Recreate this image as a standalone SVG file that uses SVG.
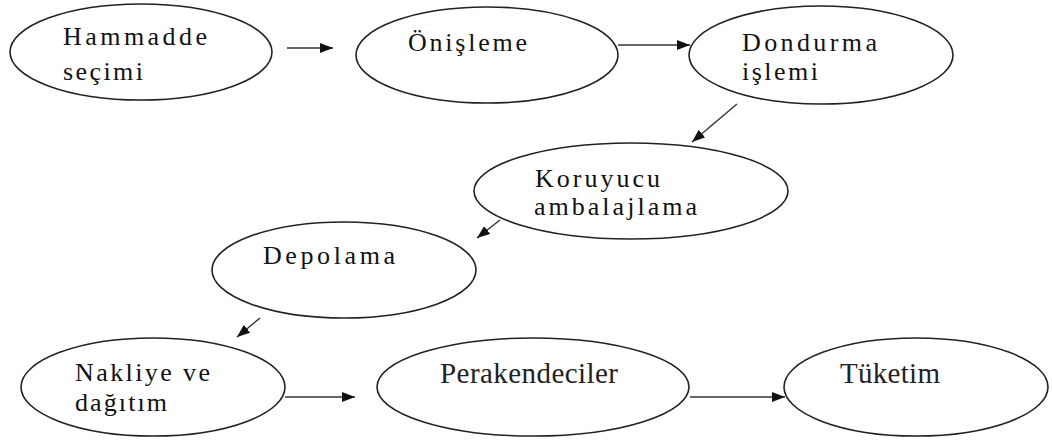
<svg xmlns="http://www.w3.org/2000/svg" width="1052" height="441" viewBox="0 0 1052 441">
<style>
.node ellipse{fill:#fff;stroke:#222;stroke-width:1.6}
.t{font-family:"Liberation Serif","Times New Roman",serif;font-size:26px;fill:#111}
.t2{font-family:"Liberation Serif","Times New Roman",serif;font-size:29px;fill:#222}
.conn line{stroke:#333;stroke-width:1.4;fill:none}
</style>
<defs>
<marker id="ah" markerUnits="userSpaceOnUse" markerWidth="14" markerHeight="10" refX="13" refY="5" orient="auto">
<path d="M0,0 L13,5 L0,10 Z" fill="#111"/>
</marker>
</defs>
<rect width="1052" height="441" fill="#fff"/>
<g id="connectors" class="conn">
<line x1="287" y1="48" x2="333" y2="48" marker-end="url(#ah)"/>
<line x1="618" y1="45" x2="690" y2="45" marker-end="url(#ah)"/>
<line x1="737" y1="104" x2="692" y2="142" marker-end="url(#ah)"/>
<line x1="500" y1="220" x2="477" y2="238" marker-end="url(#ah)"/>
<line x1="260" y1="318" x2="237" y2="337" marker-end="url(#ah)"/>
<line x1="285" y1="397" x2="355" y2="397" marker-end="url(#ah)"/>
<line x1="690" y1="397" x2="785" y2="397" marker-end="url(#ah)"/>
</g>
<g id="n1" class="node">
<ellipse cx="141" cy="52" rx="131" ry="48"/>
<text class="t" x="63" y="45" textLength="144" lengthAdjust="spacing">Hammadde</text>
<text class="t" x="63" y="80" textLength="80" lengthAdjust="spacing">seçimi</text>
</g>
<g id="n2" class="node">
<ellipse cx="487" cy="55" rx="131" ry="48"/>
<text class="t" x="408" y="51" textLength="119" lengthAdjust="spacing">Önişleme</text>
</g>
<g id="n3" class="node">
<ellipse cx="821" cy="55" rx="132" ry="49"/>
<text class="t" x="742" y="51" textLength="135" lengthAdjust="spacing">Dondurma</text>
<text class="t" x="742" y="80" textLength="76" lengthAdjust="spacing">işlemi</text>
</g>
<g id="n4" class="node">
<ellipse cx="631" cy="191" rx="157" ry="48"/>
<text class="t" x="535" y="187" textLength="125" lengthAdjust="spacing">Koruyucu</text>
<text class="t" x="534" y="215" textLength="163" lengthAdjust="spacing">ambalajlama</text>
</g>
<g id="n5" class="node">
<ellipse cx="344" cy="270" rx="132" ry="48"/>
<text class="t" x="263" y="264" textLength="132" lengthAdjust="spacing">Depolama</text>
</g>
<g id="n6" class="node">
<ellipse cx="153" cy="387" rx="132" ry="49"/>
<text class="t" x="75" y="381" textLength="135" lengthAdjust="spacing">Nakliye ve</text>
<text class="t" x="75" y="411" textLength="92" lengthAdjust="spacing">dağıtım</text>
</g>
<g id="n7" class="node">
<ellipse cx="533" cy="387" rx="156" ry="49"/>
<text class="t2" x="440" y="383" textLength="178" lengthAdjust="spacing">Perakendeciler</text>
</g>
<g id="n8" class="node">
<ellipse cx="916" cy="387" rx="132" ry="49"/>
<text class="t2" x="840" y="383" textLength="100" lengthAdjust="spacing">Tüketim</text>
</g>
</svg>
